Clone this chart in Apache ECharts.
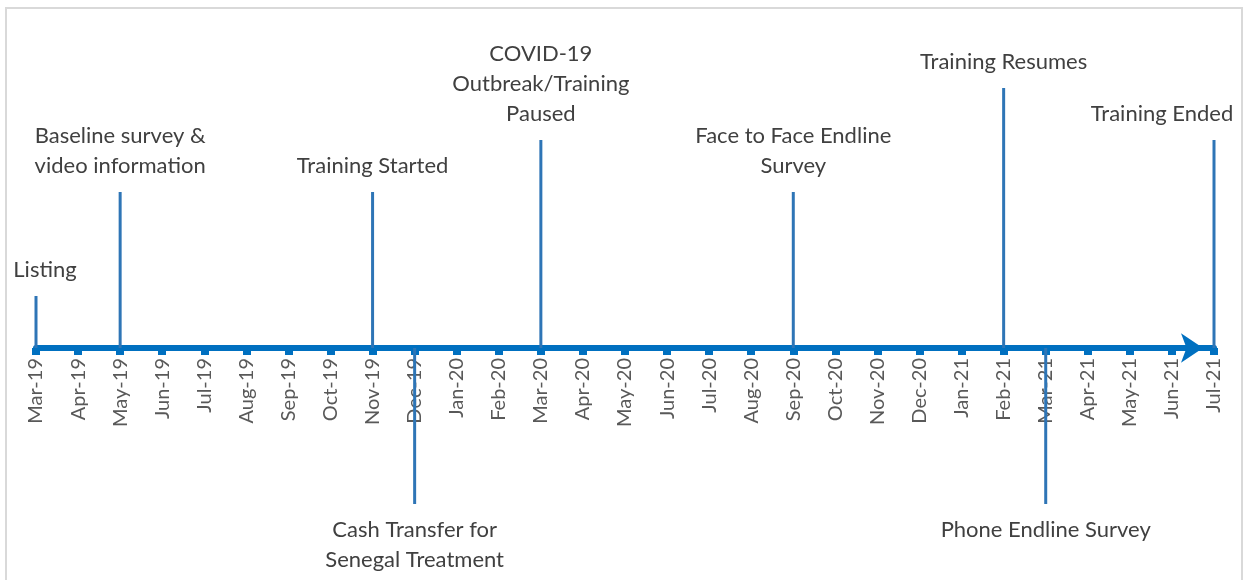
<!DOCTYPE html>
<html>
<head>
<meta charset="utf-8">
<script src="https://cdn.jsdelivr.net/npm/echarts@6/dist/echarts.min.js"></script>
<style>
  html, body { margin: 0; padding: 0; background: #fff; }
  #wrap { position: relative; width: 1243px; height: 580px; overflow: hidden; }
  #frame { position: absolute; left: 5px; top: 7px; width: 1238px; height: 620px;
           border: 2px solid #d9d9d9; box-sizing: border-box; pointer-events: none; }
  #chart { position: absolute; left: 0; top: 0; width: 1243px; height: 580px; }
</style>
</head>
<body>
<div id="wrap">
  <div id="frame"></div>
  <div id="chart"></div>
</div>
<script>
// months on the timeline
var months = ['Mar-19','Apr-19','May-19','Jun-19','Jul-19','Aug-19','Sep-19','Oct-19','Nov-19','Dec-19',
  'Jan-20','Feb-20','Mar-20','Apr-20','May-20','Jun-20','Jul-20','Aug-20','Sep-20','Oct-20',
  'Nov-20','Dec-20','Jan-21','Feb-21','Mar-21','Apr-21','May-21','Jun-21','Jul-21'];

// events: month, stem height, label
var eventMonths = ['Mar-19','May-19','Nov-19','Dec-19','Mar-20','Sep-20','Feb-21','Mar-21','Jul-21'];
var eventHeights = [1, 3, 3, -3, 4, 3, 5, -3, 4];
var eventLabels = [
  'Listing',
  'Baseline survey &\nvideo information',
  'Training Started',
  'Cash Transfer for\nSenegal Treatment',
  'COVID-19\nOutbreak/Training\nPaused',
  'Face to Face Endline\nSurvey',
  'Training Resumes',
  'Phone Endline Survey',
  'Training Ended'
];

// label nudges so text stays inside the frame
var labelShift = { 'Mar-19': [9, 0], 'Jul-21': [-52, 0] };

var FONT = 'Lato, "Open Sans", sans-serif';
var Y_MIN = -4, Y_MAX = 6;
var GRID_TOP = 36, GRID_BOTTOM = 24;

var data = months.map(function (m) {
  var i = eventMonths.indexOf(m);
  if (i < 0) return null;
  var v = eventHeights[i];
  return {
    value: v,
    label: {
      show: true,
      position: v >= 0 ? 'top' : 'bottom',
      distance: 11,
      offset: labelShift[m] || [0, 0],
      formatter: eventLabels[i]
    }
  };
});

// lift the x axis from the grid bottom up to the zero line
var plotH = 580 - GRID_TOP - GRID_BOTTOM;
var zeroLift = plotH * (0 - Y_MIN) / (Y_MAX - Y_MIN);

var chart = echarts.init(document.getElementById('chart'));
chart.setOption({
  animation: false,
  grid: { left: 36, right: 29, top: GRID_TOP, bottom: GRID_BOTTOM, outerBoundsMode: 'none', containLabel: false },
  xAxis: {
    type: 'category',
    data: months,
    boundaryGap: false,
    position: 'bottom',
    offset: -zeroLift,
    axisLine: {
      onZero: false,
      lineStyle: { color: '#0070C0', width: 6 },
      symbol: ['none', 'arrow'],
      symbolSize: [22, 22],
      symbolOffset: [0, -11]
    },
    axisTick: { show: true, length: 7, lineStyle: { color: '#0070C0', width: 8 } },
    axisLabel: {
      interval: 0, rotate: 90, margin: 10,
      color: '#595959', fontSize: 20, fontFamily: FONT
    },
    splitLine: { show: false }
  },
  yAxis: {
    type: 'value', min: Y_MIN, max: Y_MAX, show: false,
    splitLine: { show: false }
  },
  series: [{
    type: 'bar',
    data: data,
    barWidth: 3,
    itemStyle: { color: '#2E75B6' },
    label: {
      color: '#404040', fontSize: 22, lineHeight: 30, fontFamily: FONT, align: 'center'
    },
    z: 5
  }]
});
</script>
</body>
</html>
